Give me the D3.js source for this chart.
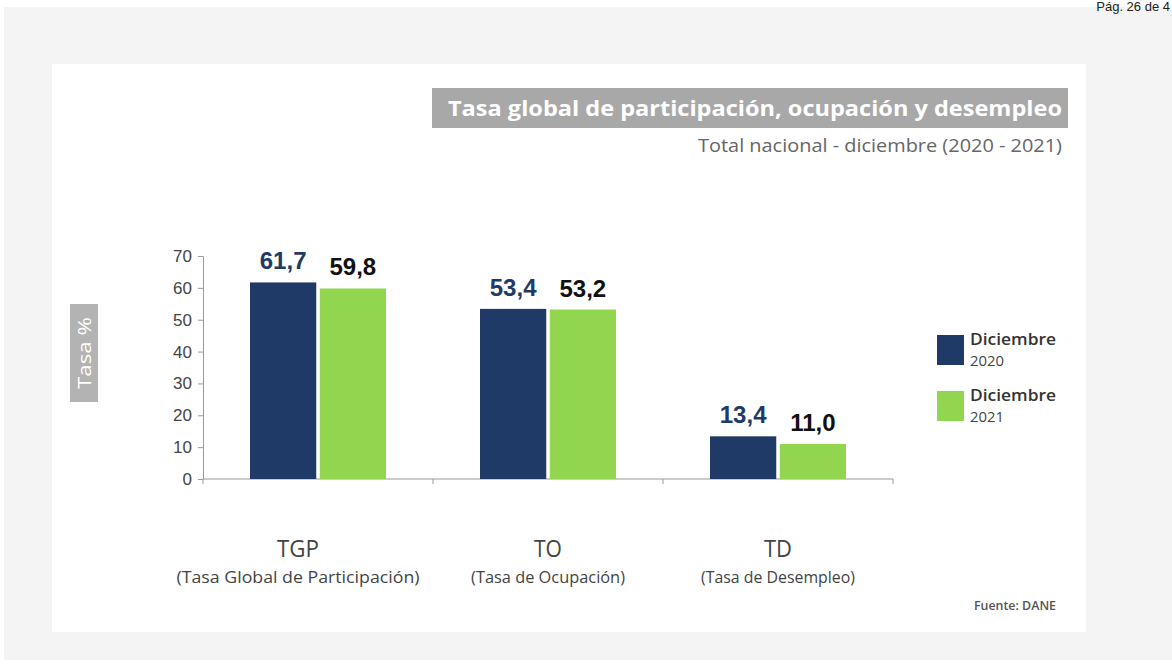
<!DOCTYPE html>
<html lang="es">
<head>
    <meta charset="UTF-8">
    <title>Tasa global de participación, ocupación y desempleo</title>
    <script src="https://d3js.org/d3.v7.min.js"></script>
    <style>
        body { margin: 0; background: #fff; }
        svg { display: block; }
    </style>
</head>
<body>
    <div class="canvas"></div>
    <script>
      // datos
      const categories = ['TGP', 'TO', 'TD'];
      const categoryNames = ['(Tasa Global de Participación)', '(Tasa de Ocupación)', '(Tasa de Desempleo)'];
      const series = ['Diciembre 2020', 'Diciembre 2021'];
      const values2020 = [61.7, 53.4, 13.4];
      const values2021 = [59.8, 53.2, 11.0];
      const yTicks = [0, 10, 20, 30, 40, 50, 60, 70];

      const width = 1172;
      const height = 666;
      const NAVY = '#1f3a66';
      const GREEN = '#92d650';
      const sans = '"Liberation Sans", Arial, sans-serif';
      const openSans = '"Open Sans", "Noto Sans", sans-serif';

      const svg = d3.select('.canvas')
                      .append('svg')
                      .attr('width', width)
                      .attr('height', height);

      // fondo gris y panel blanco
      svg.append('rect').attr('x', 4).attr('y', 7).attr('width', width - 4).attr('height', 653).attr('fill', '#f4f4f4');
      svg.append('rect').attr('x', 52).attr('y', 64).attr('width', 1034).attr('height', 568).attr('fill', '#ffffff');

      svg.append('text')
        .attr('x', 1170).attr('y', 11)
        .attr('text-anchor', 'end')
        .style('font-family', sans).style('font-size', '13px').style('fill', '#222')
        .text('Pág. 26 de 4');

      // titulo
      svg.append('rect').attr('x', 432).attr('y', 88).attr('width', 636).attr('height', 40).attr('fill', '#a8a8a8');
      svg.append('text')
        .attr('x', 1062).attr('y', 116)
        .attr('text-anchor', 'end')
        .attr('textLength', 614).attr('lengthAdjust', 'spacingAndGlyphs')
        .style('font-family', openSans).style('font-weight', 'bold').style('font-size', '22px').style('fill', '#fff')
        .text('Tasa global de participación, ocupación y desempleo');
      svg.append('text')
        .attr('x', 1062).attr('y', 152)
        .attr('text-anchor', 'end')
        .attr('textLength', 364).attr('lengthAdjust', 'spacingAndGlyphs')
        .style('font-family', openSans).style('font-size', '18px').style('fill', '#666')
        .text('Total nacional - diciembre (2020 - 2021)');

      const [ml, mr, mt, mb] = [203, 893, 256, 479];

      const x = d3.scaleBand()
                    .domain(categories)
                    .range([ml, mr]);

      const xSub = d3.scaleBand()
                    .domain(series)
                    .range([0, 136])
                    .paddingInner(0.05);

      const y = d3.scaleLinear()
                    .domain([0, 70])
                    .range([mb, mt]);

      // eje y
      const yAxis = d3.axisLeft(y).tickValues(yTicks).tickSize(5).tickPadding(6);
      const yAxisG = svg.append('g').attr('transform', `translate(${ml}, 0)`).call(yAxis);
      yAxisG.select('.domain').attr('stroke', '#999');
      yAxisG.selectAll('.tick line').attr('stroke', '#999');
      yAxisG.selectAll('.tick text')
        .style('font-family', sans).style('font-size', '17px').style('fill', '#444');

      // eje x
      const xAxisG = svg.append('g').attr('transform', `translate(0, ${mb})`);
      xAxisG.append('line').attr('x1', ml).attr('x2', mr).attr('stroke', '#999');
      xAxisG.selectAll('.xt').data([...categories.map(c => x(c)), mr]).enter()
        .append('line')
        .attr('x1', d => d).attr('x2', d => d).attr('y1', 0).attr('y2', 5)
        .attr('stroke', '#999');

      // titulo eje y
      svg.append('rect').attr('x', 70).attr('y', 304).attr('width', 28).attr('height', 98).attr('fill', '#b3b3b3');
      svg.append('text')
        .attr('transform', 'translate(91, 353) rotate(-90)')
        .attr('text-anchor', 'middle')
        .attr('textLength', 72).attr('lengthAdjust', 'spacingAndGlyphs')
        .style('font-family', openSans).style('font-size', '18px').style('fill', '#fff')
        .text('Tasa %');

      // barras
      const rows = categories.map((c, i) => ({ cat: c, vals: [values2020[i], values2021[i]] }));
      const groups = svg.selectAll('.grp').data(rows).enter()
        .append('g')
        .attr('transform', d => `translate(${x(d.cat) + (x.bandwidth() - 136) / 2}, 0)`);

      const cells = groups.selectAll('.cell')
        .data(d => d.vals.map((v, j) => ({ s: series[j], v, j })))
        .enter();

      cells.append('rect')
        .attr('x', d => xSub(d.s))
        .attr('y', d => y(d.v))
        .attr('width', xSub.bandwidth())
        .attr('height', d => y(0) - y(d.v))
        .attr('fill', d => d.j === 0 ? NAVY : GREEN);

      cells.append('text')
        .attr('x', d => xSub(d.s) + xSub.bandwidth() / 2)
        .attr('y', d => y(d.v) - 13)
        .attr('text-anchor', 'middle')
        .style('font-family', sans).style('font-weight', 'bold').style('font-size', '24px')
        .style('fill', d => d.j === 0 ? '#1f3a66' : '#111')
        .text(d => d.v.toFixed(1).replace('.', ','));

      // etiquetas de categorias
      const catLabels = svg.selectAll('.cat').data(categories).enter().append('g')
        .attr('transform', (d, i) => `translate(${x(d) + x.bandwidth() / 2 - (i === 0 ? 20 : 0)}, 0)`);
      catLabels.append('text')
        .attr('y', 557)
        .attr('text-anchor', 'middle')
        .style('font-family', openSans).style('font-size', '23px').style('fill', '#444')
        .attr('textLength', d => d.length * 14).attr('lengthAdjust', 'spacingAndGlyphs')
        .text(d => d);
      catLabels.append('text')
        .attr('y', 583)
        .attr('text-anchor', 'middle')
        .style('font-family', openSans).style('font-size', '16px').style('fill', '#444')
        .attr('textLength', (d, i) => categoryNames[i].length * 8.1).attr('lengthAdjust', 'spacingAndGlyphs')
        .text((d, i) => categoryNames[i]);

      // leyenda
      const legend = svg.selectAll('.leg').data(series).enter().append('g')
        .attr('transform', (d, i) => `translate(937, ${335 + i * 56})`);
      legend.append('rect')
        .attr('width', 27).attr('height', 30)
        .attr('fill', (d, i) => i === 0 ? NAVY : GREEN);
      legend.append('text')
        .attr('x', 33).attr('y', 10)
        .style('font-family', openSans).style('font-weight', '600').style('font-size', '16px').style('fill', '#333')
        .attr('textLength', 86).attr('lengthAdjust', 'spacingAndGlyphs')
        .text(d => d.split(' ')[0]);
      legend.append('text')
        .attr('x', 33).attr('y', 31)
        .style('font-family', openSans).style('font-size', '14px').style('fill', '#444')
        .attr('textLength', 34).attr('lengthAdjust', 'spacingAndGlyphs')
        .text(d => d.split(' ')[1]);

      // fuente
      svg.append('text')
        .attr('x', 1056).attr('y', 610)
        .attr('text-anchor', 'end')
        .attr('textLength', 82).attr('lengthAdjust', 'spacingAndGlyphs')
        .style('font-family', openSans).style('font-weight', '600').style('font-size', '13px').style('fill', '#555')
        .text('Fuente: DANE');
    </script>
</body>
</html>
